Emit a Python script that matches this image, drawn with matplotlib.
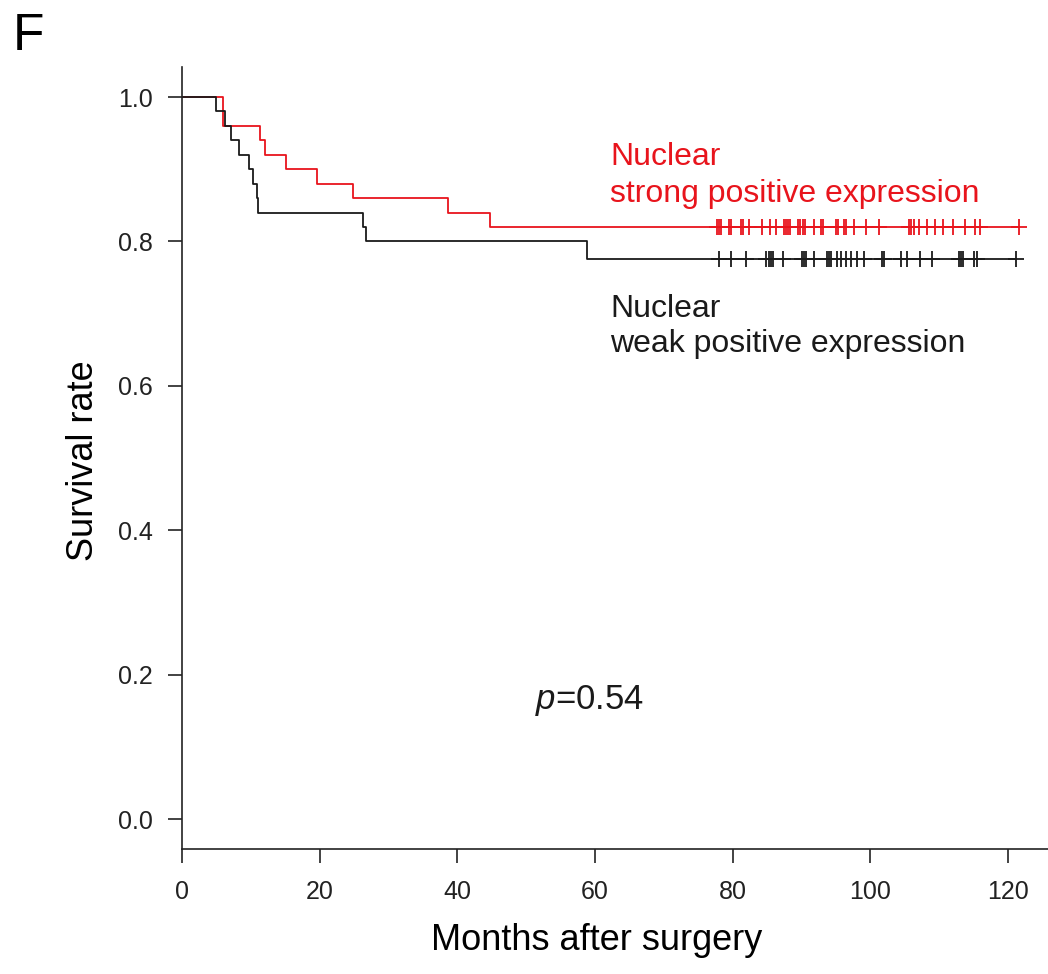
import numpy as np
import matplotlib
matplotlib.use("Agg")
from matplotlib import pyplot as plt

plt.rcParams["font.family"] = ["Liberation Sans", "DejaVu Sans"]
plt.rcParams["mathtext.fontset"] = "custom"
plt.rcParams["mathtext.it"] = "Liberation Sans:italic"
plt.rcParams["mathtext.rm"] = "Liberation Sans"

# Kaplan-Meier steps (months, survival)
strong_times = [0, 5.9, 11.3, 12.0, 15.1, 19.6, 24.9, 38.6, 44.7]
strong_surv = [1.0, 0.96, 0.94, 0.92, 0.90, 0.88, 0.86, 0.84, 0.82]
strong_censor = [77.7, 78.0, 78.3, 79.5, 79.8, 81.2, 81.5, 82.4, 84.3, 85.4,
                 86.3, 87.5, 87.8, 88.0, 88.3, 89.5, 89.8, 90.2, 90.5, 91.8,
                 92.8, 93.1, 95.0, 95.3, 96.2, 96.5, 97.6, 99.4, 101.3, 105.6,
                 105.9, 106.4, 107.1, 108.2, 109.4, 110.6, 112.0, 113.8, 115.2,
                 115.9, 121.6]

weak_times = [0, 5.0, 6.2, 7.1, 8.3, 9.7, 10.3, 10.85, 11.1, 26.3, 26.7, 58.8]
weak_surv = [1.0, 0.98, 0.96, 0.94, 0.92, 0.90, 0.88, 0.86, 0.84, 0.82, 0.80, 0.776]
weak_censor = [78.0, 79.8, 82.0, 84.9, 85.2, 85.5, 85.8, 87.3, 90.1, 90.4,
               90.7, 91.8, 93.7, 94.0, 94.3, 95.1, 95.7, 96.4, 97.2, 98.0,
               99.1, 101.7, 102.0, 104.4, 105.3, 107.2, 108.9, 112.9, 113.2,
               113.5, 115.0, 115.5, 121.2]

red = "#e8141c"
black = "#1a1a1a"

fig = plt.figure(figsize=(10.48, 9.74), dpi=100)
ax = fig.add_axes([0.1737, 0.1283, 0.8263, 0.8029])


def km_curve(times, surv, censor, color):
    t = list(times) + [max(censor)]
    s = list(surv) + [surv[-1]]
    ax.step(t, s, where="post", color=color, lw=1.3)
    idx = np.searchsorted(times, censor, side="right") - 1
    cy = np.array(surv)[idx]
    ax.plot(censor, cy, ls="none", marker="+", ms=12, mew=1.3, color=color)


km_curve(strong_times, strong_surv, strong_censor, red)
km_curve(weak_times, weak_surv, weak_censor, black)

ax.set_xlim(0, 125.8)
ax.set_ylim(-0.0416, 1.0416)
ax.set_xticks([0, 20, 40, 60, 80, 100, 120])
ax.set_yticks([0.0, 0.2, 0.4, 0.6, 0.8, 1.0])
ax.set_yticklabels(["0.0", "0.2", "0.4", "0.6", "0.8", "1.0"])
ax.spines["top"].set_visible(False)
ax.spines["right"].set_visible(False)
for sp in ["left", "bottom"]:
    ax.spines[sp].set_linewidth(1.2)
    ax.spines[sp].set_color("#222222")
ax.tick_params(axis="both", length=10, width=1.2, color="#222222",
               labelsize=18, labelcolor="#222222")
ax.tick_params(axis="x", pad=12)
ax.tick_params(axis="y", pad=11)

ax.set_xlabel("Months after surgery", fontsize=26)
ax.set_ylabel("Survival rate", fontsize=26)
ax.xaxis.set_label_coords(0.479, -0.095)
ax.yaxis.set_label_coords(-0.0935, 0.497)

ax.text(62.2, 0.906, "Nuclear", color=red, fontsize=23, va="baseline")
ax.text(62.2, 0.855, "strong positive expression", color=red, fontsize=23, va="baseline")
ax.text(62.2, 0.696, "Nuclear", color=black, fontsize=23, va="baseline")
ax.text(62.2, 0.647, "weak positive expression", color=black, fontsize=23, va="baseline")
ax.text(51.3, 0.152, "$p$=0.54", color=black, fontsize=25, va="baseline")

fig.text(0.012, 0.949, "F", fontsize=37, va="baseline")

fig.savefig("out.png", dpi=100)
